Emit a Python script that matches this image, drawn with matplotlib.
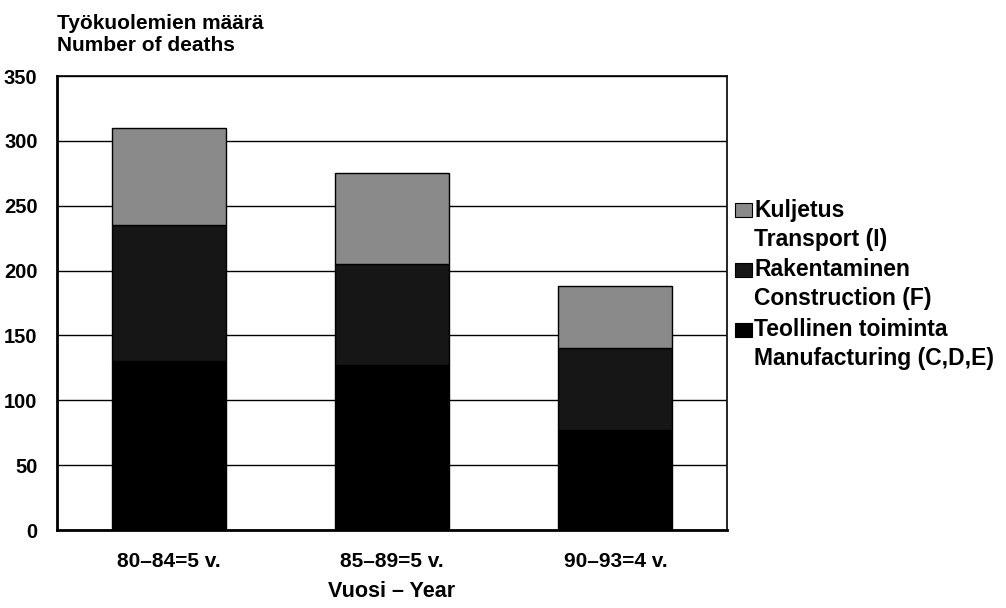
import matplotlib.pyplot as plt
from matplotlib.patches import Rectangle

plt.rcParams['font.family'] = ['Liberation Sans', 'DejaVu Sans']
plt.rcParams['font.weight'] = 'bold'

# jaksot / periods
periods = ['80–84=5 v.', '85–89=5 v.', '90–93=4 v.']
# kuolemat toimialoittain (arvioitu kuvasta)
manufacturing = [130, 127, 77]
construction = [105, 78, 63]
transport = [75, 70, 48]

series = [
    (['Teollinen toiminta', 'Manufacturing (C,D,E)'], manufacturing, '#000000'),
    (['Rakentaminen', 'Construction (F)'], construction, '#161616'),
    (['Kuljetus', 'Transport (I)'], transport, '#8a8a8a'),
]

W, H = 1006, 608
fig = plt.figure(figsize=(W / 100, H / 100), dpi=100)
ax = fig.add_axes([57 / W, 1 - 530 / H, 670 / W, 454 / H])

x = list(range(len(periods)))
bottom = [0] * len(periods)
for label, vals, col in series:
    ax.bar(x, vals, width=0.51, bottom=bottom, color=col, edgecolor='black',
           linewidth=1.0, zorder=3)
    bottom = [b + v for b, v in zip(bottom, vals)]

ax.set_ylim(0, 350)
ax.set_xlim(-0.5, 2.5)
ax.set_yticks(range(0, 351, 50))
ax.set_xticks(x)
ax.set_xticklabels(periods, fontsize=15)
ax.tick_params(axis='y', labelsize=14.5, length=0, pad=14)
ax.tick_params(axis='x', length=0, pad=16)
ax.yaxis.grid(True, color='black', linewidth=1.0, zorder=0)
ax.set_axisbelow(True)
for s in ax.spines.values():
    s.set_linewidth(1.2)
ax.spines['left'].set_linewidth(2.0)
ax.spines['bottom'].set_linewidth(2.0)

fig.text((57 + 335) / W, 6 / H, 'Vuosi – Year', fontsize=15.5, ha='center', va='bottom')

fig.text(57 / W, 1 - 29 / H, 'Työkuolemien määrä', fontsize=15, ha='left', va='baseline')
fig.text(57 / W, 1 - 51 / H, 'Number of deaths', fontsize=15, ha='left', va='baseline')

# selite / legend
first_line = [210, 270, 330]
for (lines, vals, col), yc in zip(series[::-1], first_line):
    fig.patches.append(Rectangle((735 / W, 1 - (yc + 7) / H), 17 / W, 14 / H,
                                 transform=fig.transFigure, facecolor=col,
                                 edgecolor='black', linewidth=0.8))
    fig.text(754 / W, 1 - yc / H, lines[0], fontsize=16.5, ha='left', va='center')
    fig.text(754 / W, 1 - (yc + 29) / H, lines[1], fontsize=16.5, ha='left', va='center')

fig.savefig('out.png', dpi=100)
